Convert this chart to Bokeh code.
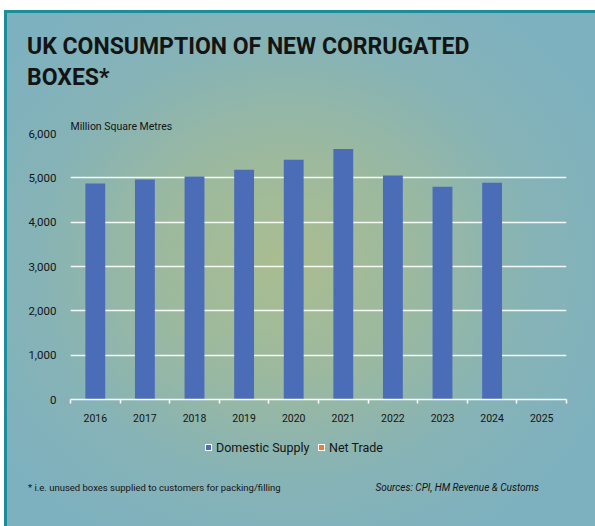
from bokeh.plotting import figure
from bokeh.layouts import column
from bokeh.models import (Range1d, LinearAxis, FixedTicker, Title, Div,
                          NumeralTickFormatter, ColumnDataSource)
from bokeh.embed import file_html
from bokeh.resources import INLINE

years = ["2016", "2017", "2018", "2019", "2020", "2021", "2022", "2023", "2024", "2025"]
domestic_supply = [4870, 4960, 5030, 5180, 5410, 5650, 5050, 4800, 4890, None]
net_trade = []  # no values shown
y_ticks = [0, 1000, 2000, 3000, 4000, 5000, 6000]
series_names = ["Domestic Supply", "Net Trade"]
series_colors = ["#4b6cb6", "#ed7d31"]

title_line1 = "UK CONSUMPTION OF NEW CORRUGATED"
title_line2 = "BOXES*"
unit_label = "Million Square Metres"
footnote = "* i.e. unused boxes supplied to customers for packing/filling"
sources = "Sources: CPI, HM Revenue &amp; Customs"

W, H = 595, 526
HEAD_H, MAIN_H = 100, 327
FOOT_H = H - HEAD_H - MAIN_H
FONT = "Roboto"
TXT = "#141414"

# ---------- header ----------
head = Div(width=W, height=HEAD_H, margin=0,
           text=(f'<div style="font-family:{FONT};font-weight:bold;font-size:23px;line-height:31px;'
                 f'color:{TXT};padding:31px 0 0 27px;white-space:nowrap;">'
                 f'{title_line1}<br>{title_line2}</div>'))

# ---------- main chart ----------
n = len(years)
pos = list(range(n))
edges = [i - 0.5 for i in range(n + 1)]

p = figure(width=W, height=MAIN_H, x_range=Range1d(-0.5, n - 0.5), y_range=Range1d(0, 6000),
           output_backend="svg", toolbar_location=None,
           min_border_left=70, min_border_right=29, min_border_top=33, min_border_bottom=28,
           x_axis_location=None, y_axis_location=None)
p.background_fill_color = None
p.border_fill_color = None
p.outline_line_color = None
p.title = Title(text=unit_label, align="left", text_font=FONT, text_font_size="10.5px",
                text_font_style="normal", text_color=TXT, standoff=1, offset=0)

src = ColumnDataSource(dict(x=[i for i, v in zip(pos, domestic_supply) if v is not None],
                            top=[v for v in domestic_supply if v is not None]))
p.vbar(x="x", top="top", width=0.4, source=src, fill_color=series_colors[0], line_color=None)
src_nt = ColumnDataSource(dict(x=pos[:len(net_trade)], top=net_trade))
p.vbar(x="x", top="top", width=0.4, source=src_nt, fill_color=series_colors[1], line_color=None)

p.xgrid.grid_line_color = None
p.ygrid.ticker = FixedTicker(ticks=y_ticks)
p.ygrid.grid_line_color = "white"
p.ygrid.grid_line_width = 1.5
p.ygrid.grid_line_alpha = 0.9

yax = LinearAxis(ticker=FixedTicker(ticks=y_ticks), formatter=NumeralTickFormatter(format="0,0"))
yax.axis_line_color = None
yax.major_tick_line_color = None
yax.minor_tick_line_color = None
yax.major_label_text_font = FONT
yax.major_label_text_font_size = "11.5px"
yax.major_label_text_color = TXT
yax.major_label_standoff = 8
p.add_layout(yax, "left")

xax = LinearAxis(ticker=FixedTicker(ticks=pos, minor_ticks=edges))
xax.major_label_overrides = {i: y for i, y in zip(pos, years)}
xax.axis_line_color = "white"
xax.axis_line_width = 1.5
xax.major_tick_line_color = None
xax.major_tick_out = 0
xax.major_tick_in = 0
xax.minor_tick_line_color = "white"
xax.minor_tick_line_width = 1.5
xax.minor_tick_out = 4
xax.minor_tick_in = 0
xax.major_label_text_font = FONT
xax.major_label_text_font_size = "10.5px"
xax.major_label_text_color = TXT
xax.major_label_standoff = 10
p.add_layout(xax, "below")

# ---------- footer: legend key + notes ----------
def key(left, color, label):
    return (f'<span style="position:absolute;left:{left}px;top:17px;width:7px;height:7px;'
            f'background:{color};border:1px solid #ffffff;"></span>'
            f'<span style="position:absolute;left:{left + 11}px;top:14px;line-height:14px;'
            f'font-size:12.5px;">{label}</span>')

foot = Div(width=W, height=FOOT_H, margin=0,
           text=(f'<div style="position:relative;width:{W}px;height:{FOOT_H}px;font-family:{FONT};'
                 f'color:{TXT};white-space:nowrap;">'
                 + key(205, series_colors[0], series_names[0])
                 + key(318, series_colors[1], series_names[1])
                 + f'<span style="position:absolute;left:28px;top:55px;line-height:12px;font-size:9.5px;">{footnote}</span>'
                 + f'<span style="position:absolute;right:56px;top:55px;line-height:12px;font-size:10px;'
                   f'font-style:italic;">{sources}</span></div>'))

page = column(head, p, foot, spacing=0, width=W, height=H)
page.styles = {
    "background": (
        "linear-gradient(#ffffff,#ffffff) 0 0/100% 10px no-repeat,"
        "linear-gradient(#ffffff,#ffffff) 0 0/4px 100% no-repeat,"
        "linear-gradient(#1b8e99,#1b8e99) 4px 10px/100% 3px no-repeat,"
        "linear-gradient(#1b8e99,#1b8e99) 4px 10px/3px 100% no-repeat,"
        "radial-gradient(ellipse 60% 60% at 48% 50%, #aabd8f 0%, #9cb99e 35%, #86b3b6 70%, #7eb1bf 100%)"
    )
}

open("out.html", "w").write(file_html(page, INLINE))
